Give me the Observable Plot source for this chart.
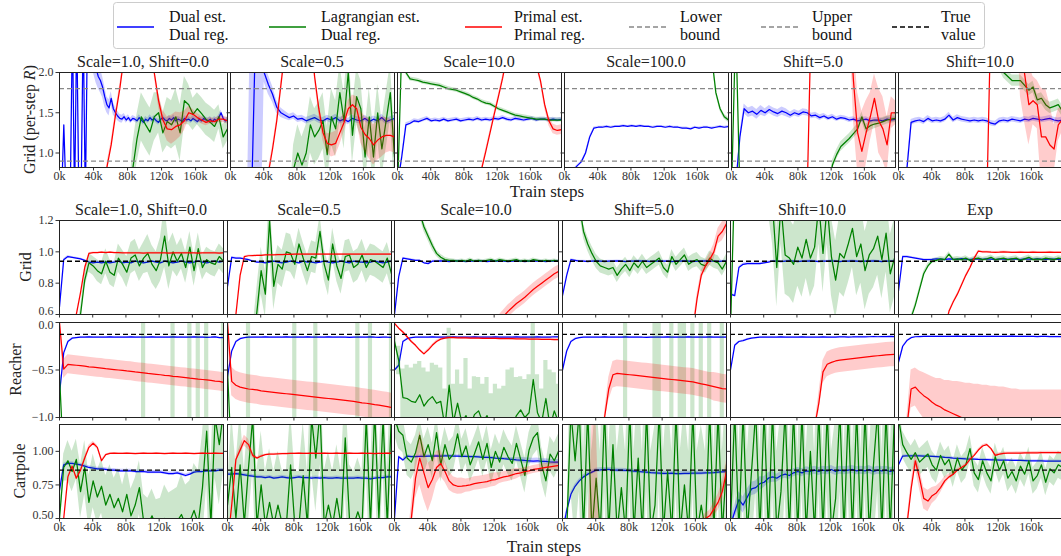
<!DOCTYPE html>
<html><head><meta charset="utf-8">
<script src="https://cdn.jsdelivr.net/npm/d3@7"></script>
<script src="https://cdn.jsdelivr.net/npm/@observablehq/plot@0.6"></script>
<style>
html,body{margin:0;padding:0;background:#fff;}
body{width:1061px;height:556px;position:relative;overflow:hidden;font-family:"Liberation Serif","DejaVu Serif",serif;}
#root{position:absolute;left:0;top:0;width:1061px;height:556px;}
#overlay{position:absolute;left:0;top:0;pointer-events:none;}
</style></head>
<body>
<div id="root"></div>
<svg id="overlay" width="1061" height="556"></svg>
<script>
// ---------------- DATA ----------------
const XMAX = 197500;
const XTICKS = [0, 40000, 80000, 120000, 160000];
const colTitlesTop = ["Scale=1.0, Shift=0.0", "Scale=0.5", "Scale=10.0", "Scale=100.0", "Shift=5.0", "Shift=10.0"];
const colTitlesBottom = ["Scale=1.0, Shift=0.0", "Scale=0.5", "Scale=10.0", "Shift=5.0", "Shift=10.0", "Exp"];
const legendLabels = [["Dual est.", "Dual reg."], ["Lagrangian est.", "Dual reg."], ["Primal est.", "Primal reg."], ["Lower", "bound"], ["Upper", "bound"], ["True", "value"]];
const topBounds = [0.9, 1.8];
const gridTrue = 0.94;
const reacherTrue = -0.125;
const cartpoleTrue = 0.86;
const topYTicks = [1.0, 1.5, 2.0];
const gridYTicks = [0.6, 0.8, 1.0, 1.2];
const reacherYTicks = [-1.0, -0.5, 0.0];
const cartYTicks = [0.5, 0.75, 1.0];

// ---- Top row: Grid (per-step R) ----
const top1_dual = [0.5,0.5,1.35,0.5,0.5,0.5,2.6,0.4,2.6,0.4,0.4,2.6,0.4,2.6,
2.4,2.3,2.15,2.05,1.95,1.9,1.82,1.7,1.6,1.56,1.68,1.55,1.5,1.46,1.43,1.42,1.45,1.41,1.44,1.40,
1.43,1.42,1.40,1.44,1.41,1.38,1.42,1.40,1.44,1.41,1.43,1.40,1.38,1.42,1.44,1.41,1.40,1.43,1.41,1.44,
1.40,1.42,1.41,1.39,1.43,1.41,1.42,1.40,1.43,1.41,1.39,1.42,1.40,1.43,1.41,1.40,1.42,1.39,1.42,1.40,
1.44,1.50,1.43,1.40,1.41];
const top1_dual_sd = [0,0,0,0,0,0,0,0.2,0.18,0.15,0.13,0.1,0.08,0.06,0.05,0.04,0.035,0.035,0.035,0.035,0.035,0.035,0.035,0.035,0.035,0.035,0.035,0.035,0.035,0.035,0.035,0.035,0.035,0.035,0.035,0.035,0.035,0.035,0.035,0.035];
const top1_lag = [0.3,0.3,0.3,0.3,0.3,0.3,0.3,0.3,0.3,0.3,0.3,0.3,0.3,0.3,0.3,0.3,0.3,0.8,1.18,1.45,1.35,1.26,1.45,1.5,1.25,1.39,1.35,1.45,1.25,1.65,1.6,1.48,1.55,1.49,1.42,1.38,1.33,1.45,1.2,1.3];
const top1_lag_sd = [0,0,0,0,0,0,0,0,0,0,0,0,0,0,0,0,0,0.3,0.3,0.3,0.3,0.3,0.3,0.25,0.25,0.3,0.3,0.35,0.35,0.3,0.25,0.2,0.2,0.2,0.2,0.2,0.2,0.15,0.15,0.15];
const top1_prim = [0.3,0.3,0.3,0.3,0.3,0.3,0.3,0.3,0.3,0.3,0.3,0.82,1.1,1.47,1.8,2.2,2.6,2.6,2.6,2.6,2.6,2.6,2.0,1.65,1.41,1.3,1.29,1.33,1.35,1.4,1.5,1.48,1.44,1.41,1.38,1.40,1.39,1.42,1.42,1.40];
const top1_prim_sd = [0,0,0,0,0,0,0,0,0,0,0,0.05,0.05,0.05,0.05,0.05,0.05,0.05,0.05,0.05,0.05,0.05,0.05,0.08,0.12,0.15,0.18,0.18,0.15,0.12,0.08,0.06,0.05,0.05,0.04,0.04,0.04,0.04,0.04,0.04];

const top2_dual = [0.4,0.4,0.4,0.4,0.4,0.4,2.6,2.3,2.0,1.85,1.73,1.57,1.5,1.47,1.44,1.46,1.42,1.43,1.40,1.42,1.44,1.41,1.40,1.43,1.41,1.44,1.40,1.42,1.39,1.43,1.41,1.40,1.43,1.39,1.42,1.40,1.44,1.39,1.41,1.43];
const top2_dual_sd = [0,0,0,0,0,3,3,3,0.12,0.12,0.1,0.08,0.06,0.05,0.04,0.04,0.04,0.04,0.04,0.04,0.04,0.04,0.04,0.04,0.04,0.04,0.04,0.04,0.04,0.04,0.04,0.04,0.04,0.04,0.04,0.04,0.04,0.04,0.04,0.04];
const top2_lag = [0.3,0.3,0.3,0.3,0.3,0.3,0.3,0.3,0.3,0.3,0.3,0.3,0.3,0.3,0.3,0.8,1.0,0.85,1.0,1.35,1.2,1.28,1.4,0.98,1.45,1.3,1.75,1.4,2.0,1.22,1.7,1.55,0.95,1.45,0.95,1.5,1.05,1.4,1.75,0.95];
const top2_lag_sd = [0,0,0,0,0,0,0,0,0,0,0,0,0,0,0,0.3,0.35,0.35,0.35,0.35,0.35,0.35,0.35,0.35,0.35,0.35,0.35,0.35,0.35,0.35,0.35,0.35,0.35,0.35,0.35,0.35,0.35,0.35,0.35,0.35];
const top2_prim = [0.3,0.3,0.3,0.3,0.3,0.3,0.3,0.3,0.3,0.75,1.05,1.4,1.85,2.3,2.6,2.6,2.6,2.6,2.6,2.6,1.95,1.55,1.25,1.12,1.1,1.12,1.25,1.38,1.55,1.6,1.55,1.32,1.23,1.18,1.1,1.16,1.2,1.22,1.22,1.2];
const top2_prim_sd = [0,0,0,0,0,0,0,0,0,0.04,0.04,0.04,0.04,0.04,0.04,0.04,0.04,0.04,0.04,0.04,0.06,0.08,0.1,0.12,0.15,0.15,0.15,0.12,0.1,0.12,0.15,0.2,0.22,0.25,0.25,0.25,0.25,0.22,0.2,0.2];

const top3_dual = [0.6,0.95,1.35,1.37,1.40,1.39,1.41,1.43,1.40,1.41,1.40,1.42,1.40,1.41,1.42,1.40,1.41,1.42,1.41,1.43,1.41,1.42,1.41,1.43,1.42,1.44,1.42,1.41,1.43,1.42,1.41,1.42,1.43,1.41,1.42,1.42,1.41,1.42,1.41,1.42];
const top3_lag = [0.5,2.3,2.0,1.92,1.91,1.90,1.88,1.87,1.86,1.85,1.84,1.82,1.80,1.79,1.78,1.76,1.74,1.72,1.69,1.67,1.64,1.62,1.61,1.58,1.55,1.53,1.51,1.49,1.47,1.46,1.45,1.44,1.43,1.42,1.42,1.42,1.41,1.41,1.41,1.41];
const top3_prim = [0.3,0.3,0.3,0.3,0.3,0.3,0.3,0.3,0.3,0.3,0.3,0.3,0.3,0.3,0.3,0.3,0.3,0.3,0.3,0.3,0.8,1.02,1.25,1.48,1.70,1.93,2.2,2.5,2.5,2.5,2.5,2.5,2.4,2.1,1.9,1.6,1.4,1.3,1.28,1.29];
const top3_prim_sd = [0,0,0,0,0,0,0,0,0,0,0,0,0,0,0,0,0,0,0,0,0.03,0.03,0.03,0.03,0.03,0.03,0.03,0.03,0.03,0.03,0.03,0.03,0.03,0.03,0.04,0.05,0.06,0.06,0.06,0.06];

const top4_dual = [0.6,0.7,0.78,0.84,0.89,1.0,1.2,1.31,1.32,1.32,1.33,1.32,1.33,1.33,1.34,1.33,1.34,1.33,1.34,1.33,1.33,1.32,1.33,1.33,1.32,1.33,1.32,1.32,1.31,1.31,1.30,1.32,1.31,1.32,1.32,1.31,1.32,1.33,1.32,1.33];
const top4_lag = [3,3,3,3,3,3,3,3,3,3,3,3,3,3,3,3,3,3,3,3,3,3,3,3,3,3,3,3,3,3,3,3,3,3,3,2.2,1.75,1.55,1.45,1.41];
const top4_prim = [];

const top5_dual = [0.5,0.6,1.2,1.55,1.5,1.52,1.48,1.53,1.5,1.54,1.51,1.49,1.52,1.5,1.47,1.5,1.48,1.51,1.5,1.46,1.47,1.44,1.46,1.43,1.45,1.42,1.44,1.43,1.41,1.42,1.4,1.41,1.42,1.40,1.41,1.41,1.40,1.42,1.41,1.42];
const top5_dual_sd = [0,0,0.05,0.06,0.06,0.06,0.06,0.06,0.05,0.05,0.05,0.05,0.05,0.05,0.04,0.04,0.04,0.04,0.04,0.035,0.035,0.035,0.03,0.03,0.03,0.03,0.03,0.03,0.03,0.03,0.03,0.03,0.03,0.03,0.03,0.03,0.03,0.03,0.03,0.03];
const top5_lag = [0.5,2.6,0.5,0.5,0.5,0.5,0.5,0.5,0.5,0.5,0.5,0.5,0.5,0.5,0.5,0.5,0.5,0.5,0.5,0.5,0.5,0.5,0.5,0.5,0.85,0.98,1.08,1.13,1.18,1.24,1.3,1.45,1.3,1.34,1.36,1.37,1.39,1.41,1.42,1.43];
const top5_lag_sd = [0,0,0,0,0,0,0,0,0,0,0,0,0,0,0,0,0,0,0,0,0,0,0,0,0.06,0.06,0.06,0.06,0.06,0.06,0.06,0.06,0.06,0.06,0.06,0.05,0.05,0.05,0.05,0.05];
const top5_prim = [0.3,0.3,0.3,0.3,0.3,0.3,0.3,0.3,0.3,0.3,0.3,0.3,0.3,0.3,0.3,0.3,0.3,0.3,0.5,2.8,2.8,2.8,2.8,2.8,2.8,2.8,2.8,2.8,2.8,1.9,1.25,1.02,1.25,1.45,1.68,1.4,1.3,1.1,1.5,1.5];
const top5_prim_sd = [0,0,0,0,0,0,0,0,0,0,0,0,0,0,0,0,0,0,0,0.02,0.02,0.02,0.02,0.02,0.02,0.02,0.02,0.02,0.02,0.5,0.5,0.5,0.4,0.3,0.3,0.4,0.4,0.35,0.2,0.15];

const top6_dual = [0.6,0.7,0.8,1.38,1.40,1.41,1.39,1.43,1.40,1.41,1.40,1.42,1.47,1.41,1.44,1.42,1.41,1.40,1.41,1.40,1.41,1.40,1.37,1.36,1.40,1.41,1.40,1.42,1.41,1.40,1.42,1.41,1.43,1.42,1.41,1.42,1.43,1.41,1.40,1.41];
const top6_lag = [3,3,3,3,3,3,3,3,3,3,3,3,3,3,3,3,3,3,3,3,3,3,3,3,2.1,2.0,1.95,1.9,1.9,1.9,1.84,1.78,1.82,1.66,1.68,1.6,1.56,1.58,1.6,1.52];
const top6_prim = [0.3,0.3,0.3,0.3,0.3,0.3,0.3,0.3,0.3,0.3,0.3,0.3,0.3,0.3,0.3,0.3,0.3,0.3,0.3,0.3,0.3,0.4,2.8,2.8,2.8,2.8,2.8,2.8,2.8,2.3,1.98,1.6,1.65,1.6,1.2,1.2,1.1,1.05,1.35,1.42];
const top6_prim_sd = [0,0,0,0,0,0,0,0,0,0,0,0,0,0,0,0,0,0,0,0,0,0,0.02,0.02,0.02,0.02,0.02,0.02,0.02,0.6,0.6,0.5,0.3,0.3,0.6,0.6,0.5,0.3,0.2,0.15];

// ---- Grid row ----
const g1_dual = [0.65,0.95,0.97,0.965,0.96,0.955,0.945,0.935,0.93,0.935,0.93,0.935,0.93,0.935,0.94,0.93,0.935,0.93,0.94,0.935,0.93,0.935,0.94,0.935,0.93,0.94,0.935,0.93,0.935,0.94,0.935,0.93,0.935,0.94,0.935,0.93,0.935,0.94,0.935,0.94];
const g1_lag = [0.3,0.3,0.3,0.3,0.45,0.6,0.82,0.93,0.91,0.88,0.86,0.94,0.87,0.85,0.96,0.92,0.87,0.96,0.98,0.91,0.96,0.99,0.92,0.88,0.95,1.1,0.91,1.0,0.94,0.99,0.9,1.03,0.88,1.02,0.9,0.95,0.93,0.92,0.97,0.94];
const g1_lag_sd = [0,0,0,0,0.03,0.04,0.05,0.06,0.06,0.07,0.07,0.08,0.08,0.08,0.09,0.09,0.1,0.1,0.1,0.1,0.1,0.12,0.12,0.12,0.14,0.2,0.15,0.12,0.1,0.1,0.1,0.1,0.1,0.1,0.08,0.08,0.08,0.08,0.08,0.08];
const g1_prim = [0.4,0.4,0.4,0.4,0.6,0.74,0.9,0.99,0.995,0.995,0.998,0.995,0.998,0.995,0.995,0.993,0.993,0.994,0.993,0.993,0.992,0.993,0.993,0.994,0.993,0.993,0.992,0.993,0.993,0.993,0.994,0.993,0.993,0.992,0.993,0.993,0.993,0.993,0.992,0.993];

const g2_dual = [0.78,0.965,0.96,0.96,0.955,0.95,0.94,0.935,0.935,0.93,0.935,0.94,0.935,0.93,0.935,0.94,0.935,0.93,0.94,0.935,0.935,0.93,0.935,0.94,0.935,0.93,0.935,0.94,0.935,0.93,0.94,0.935,0.935,0.93,0.935,0.94,0.935,0.93,0.935,0.94];
const g2_lag = [0.3,0.3,0.3,0.3,0.3,0.3,0.4,0.62,0.88,0.73,1.2,0.78,0.92,0.89,1.0,0.99,0.92,1.05,0.96,0.88,0.97,0.96,1.13,0.92,0.82,1.05,0.91,0.83,0.97,0.98,0.9,0.92,0.98,0.9,0.95,0.94,0.92,0.9,0.96,0.86];
const g2_lag_sd = [0,0,0,0,0,0,0.1,0.15,0.15,0.15,0.2,0.15,0.12,0.12,0.12,0.12,0.1,0.1,0.1,0.1,0.1,0.1,0.1,0.1,0.1,0.1,0.1,0.1,0.1,0.1,0.1,0.1,0.1,0.1,0.1,0.1,0.1,0.1,0.1,0.1];
const g2_prim = [0.4,0.5,0.6,0.85,0.97,0.975,0.976,0.977,0.978,0.98,0.98,0.981,0.982,0.982,0.983,0.984,0.985,0.985,0.985,0.985,0.986,0.985,0.985,0.985,0.986,0.985,0.985,0.985,0.985,0.986,0.985,0.985,0.985,0.985,0.986,0.985,0.985,0.985,0.985,0.985];

const g3_dual = [0.6,0.84,0.96,0.955,0.95,0.945,0.945,0.93,0.925,0.94,0.94,0.942,0.94,0.938,0.94,0.942,0.94,0.938,0.94,0.94,0.942,0.94,0.938,0.94,0.942,0.94,0.94,0.938,0.94,0.942,0.94,0.938,0.94,0.94,0.942,0.94,0.938,0.94,0.94,0.942];
const g3_lag = [1.5,1.5,1.5,1.5,1.5,1.5,1.25,1.16,1.1,1.04,0.99,0.965,0.95,0.945,0.945,0.94,0.945,0.94,0.95,0.94,0.945,0.94,0.945,0.95,0.94,0.95,0.945,0.94,0.945,0.95,0.94,0.945,0.94,0.95,0.945,0.94,0.945,0.94,0.945,0.94];
const g3_lag_sd = [0.03,0.03,0.03,0.03,0.03,0.03,0.03,0.03,0.03,0.03,0.02,0.02,0.015,0.012,0.01,0.01,0.01,0.01,0.01,0.01,0.01,0.01,0.01,0.01,0.01,0.01,0.01,0.01,0.01,0.01,0.01,0.01,0.01,0.01,0.01,0.01,0.01,0.01,0.01,0.01];
const g3_prim = [0.3,0.3,0.3,0.3,0.3,0.3,0.3,0.3,0.3,0.3,0.3,0.3,0.3,0.3,0.3,0.3,0.3,0.3,0.3,0.3,0.3,0.3,0.3,0.3,0.3,0.56,0.59,0.62,0.645,0.67,0.69,0.71,0.735,0.76,0.78,0.8,0.82,0.84,0.86,0.875];
const g3_prim_sd = [0,0,0,0,0,0,0,0,0,0,0,0,0,0,0,0,0,0,0,0,0,0,0,0,0,0.04,0.04,0.04,0.04,0.04,0.04,0.04,0.04,0.04,0.04,0.04,0.04,0.04,0.04,0.04];

const g4_dual = [0.72,0.85,0.95,0.945,0.94,0.94,0.938,0.94,0.942,0.94,0.938,0.94,0.94,0.942,0.94,0.938,0.94,0.94,0.942,0.94,0.94,0.938,0.94,0.942,0.94,0.94,0.938,0.94,0.94,0.942,0.94,0.938,0.94,0.94,0.942,0.94,0.94,0.938,0.94,0.94];
const g4_lag = [1.5,1.5,1.5,1.5,1.3,1.13,1.05,0.99,0.94,0.91,0.9,0.89,0.9,0.85,0.89,0.92,0.88,0.93,0.9,0.94,0.9,0.92,0.94,0.96,0.9,0.87,0.97,0.92,0.95,0.98,0.92,0.94,0.95,0.92,0.91,0.96,0.94,0.93,0.89,0.94];
const g4_prim = [0.3,0.3,0.3,0.3,0.3,0.3,0.3,0.3,0.3,0.3,0.3,0.3,0.3,0.3,0.3,0.3,0.3,0.3,0.3,0.3,0.3,0.3,0.3,0.3,0.3,0.3,0.3,0.3,0.3,0.3,0.3,0.5,0.7,0.85,0.91,0.95,1.0,1.1,1.13,1.18];
const g4_prim_sd = [0,0,0,0,0,0,0,0,0,0,0,0,0,0,0,0,0,0,0,0,0,0,0,0,0,0,0,0,0,0,0,0.03,0.03,0.03,0.03,0.04,0.05,0.05,0.06,0.06];

const g5_dual = [0.73,0.72,0.9,0.92,0.925,0.925,0.925,0.925,0.93,0.935,0.94,0.94,0.938,0.94,0.942,0.94,0.938,0.94,0.94,0.942,0.94,0.938,0.94,0.94,0.942,0.94,0.938,0.94,0.94,0.942,0.94,0.938,0.94,0.94,0.942,0.94,0.938,0.94,0.94,0.942];
const g5_lag = [0.5,1.5,1.5,1.5,1.5,1.5,1.5,1.5,1.5,1.5,1.3,0.9,1.3,0.98,0.96,0.92,1.03,0.96,1.08,0.96,1.03,1.3,0.99,1.3,0.97,0.82,0.99,0.96,1.05,1.15,0.97,1.05,0.88,0.98,1.02,1.1,0.95,1.12,0.86,0.96];
const g5_lag_sd = [0,0,0,0,0,0,0,0,0,0.25,0.25,0.25,0.25,0.25,0.25,0.25,0.25,0.25,0.25,0.25,0.25,0.25,0.25,0.25,0.25,0.25,0.25,0.25,0.25,0.25,0.25,0.25,0.25,0.25,0.25,0.25,0.25,0.25,0.25,0.25];
const g5_prim = [];

const g6_dual = [0.75,0.97,0.97,0.965,0.96,0.955,0.95,0.95,0.952,0.955,0.953,0.951,0.955,0.953,0.952,0.956,0.953,0.951,0.955,0.954,0.952,0.955,0.953,0.951,0.954,0.953,0.952,0.955,0.953,0.951,0.955,0.954,0.952,0.955,0.953,0.952,0.954,0.953,0.952,0.955];
const g6_lag = [0.4,0.4,0.4,0.58,0.66,0.76,0.86,0.91,0.94,0.945,0.955,0.95,0.985,0.95,0.955,0.95,0.96,0.945,0.955,0.96,0.95,0.955,0.965,0.95,0.955,0.96,0.95,0.955,0.96,0.945,0.955,0.965,0.95,0.955,0.95,0.96,0.955,0.95,0.96,0.955];
const g6_prim = [0.3,0.3,0.3,0.3,0.3,0.3,0.3,0.3,0.3,0.3,0.3,0.5,0.62,0.68,0.73,0.79,0.85,0.9,0.96,1.005,1.0,1.0,0.998,0.997,0.998,1.0,0.998,0.996,0.997,0.998,0.997,0.996,0.998,0.997,0.996,0.997,0.998,0.996,0.997,0.996];

// ---- Reacher row ----
const r1_dual = [-0.75,-0.32,-0.2,-0.165,-0.16,-0.155,-0.155,-0.152,-0.155,-0.153,-0.155,-0.154,-0.152,-0.155,-0.153,-0.155,-0.154,-0.152,-0.155,-0.153,-0.155,-0.154,-0.152,-0.155,-0.153,-0.155,-0.154,-0.152,-0.155,-0.153,-0.155,-0.154,-0.152,-0.155,-0.153,-0.157,-0.155,-0.152,-0.16,-0.158];
const r1_lag = [-0.55,-1.5,-1.5,-1.5,-1.5,-1.5,-1.5,-1.5,-1.5,-1.5,-1.5,-1.5,-1.5,-1.5,-1.5,-1.5,-1.5,-1.5,-1.5,-1.5,-1.5,-1.5,-1.5,-1.5,-1.5,-1.5,-1.5,-1.5,-1.5,-1.5,-1.5,-1.5,-1.5,-1.5,-1.5,-1.5,-1.5,-1.5,-1.5,-1.5];
const r1_lag_sd = [0,0,0,0,0,0,0,0,0,0,0,0,0,0,0,0,0,0,0,0,3,0,0,0,0,0,0,3,0,0,0,3,0,3,0,3,0,0,0,3];
const r1_prim = [0.0,-0.49,-0.44,-0.445,-0.45,-0.455,-0.46,-0.466,-0.47,-0.475,-0.48,-0.486,-0.49,-0.495,-0.5,-0.505,-0.51,-0.514,-0.52,-0.525,-0.53,-0.536,-0.54,-0.545,-0.55,-0.556,-0.56,-0.566,-0.57,-0.575,-0.58,-0.586,-0.59,-0.596,-0.6,-0.605,-0.61,-0.616,-0.62,-0.63];

const r2_dual = [-0.57,-0.3,-0.2,-0.17,-0.16,-0.155,-0.155,-0.153,-0.155,-0.152,-0.155,-0.154,-0.153,-0.155,-0.152,-0.155,-0.154,-0.153,-0.155,-0.152,-0.155,-0.154,-0.153,-0.155,-0.152,-0.155,-0.154,-0.153,-0.155,-0.157,-0.155,-0.154,-0.153,-0.155,-0.152,-0.155,-0.157,-0.153,-0.155,-0.156];
const r2_lag = [-0.5,-1.5,-1.5,-1.5,-1.5,-1.5,-1.5,-1.5,-1.5,-1.5,-1.5,-1.5,-1.5,-1.5,-1.5,-1.5,-1.5,-1.5,-1.5,-1.5,-1.5,-1.5,-1.5,-1.5,-1.5,-1.5,-1.5,-1.5,-1.5,-1.5,-1.5,-1.5,-1.5,-1.5,-1.5,-1.5,-1.5,-1.5,-1.5,-1.5];
const r2_lag_sd = [0,0,0,0,0,3,0,0,0,0,0,0,0,0,0,0,3,0,0,0,0,3,0,0,0,0,0,0,0,0,0,3,0,0,3,0,0,0,0,3];
const r2_prim = [0.0,-0.62,-0.66,-0.68,-0.69,-0.7,-0.705,-0.71,-0.72,-0.725,-0.73,-0.735,-0.74,-0.745,-0.75,-0.755,-0.76,-0.765,-0.77,-0.775,-0.78,-0.785,-0.79,-0.795,-0.8,-0.805,-0.81,-0.815,-0.82,-0.825,-0.83,-0.838,-0.845,-0.85,-0.857,-0.864,-0.87,-0.878,-0.885,-0.895];

const r3_dual = [-0.5,-0.45,-0.2,-0.17,-0.16,-0.155,-0.155,-0.153,-0.155,-0.152,-0.155,-0.154,-0.153,-0.155,-0.152,-0.155,-0.154,-0.153,-0.155,-0.152,-0.155,-0.154,-0.153,-0.155,-0.152,-0.155,-0.154,-0.153,-0.155,-0.152,-0.155,-0.154,-0.153,-0.155,-0.152,-0.155,-0.154,-0.153,-0.15,-0.152];
const r3_lag = [-0.2,-0.4,-0.79,-0.8,-0.83,-0.84,-0.76,-0.88,-0.82,-0.78,-0.85,-0.83,-1.1,-0.66,-1.05,-0.85,-1.05,-0.98,-1.1,-0.97,-0.93,-1.05,-0.98,-1.1,-1.05,-1.1,-1.02,-1.1,-1.08,-0.98,-0.92,-1.0,-0.95,-0.6,-0.95,-1.05,-0.8,-1.1,-0.93,-1.05];
const r3_lag_sd = [0.05,0.15,0.3,0.35,0.35,0.4,0.35,0.4,0.3,0.35,0.4,0.35,0.4,0.6,0.4,0.35,0.4,0.6,0.4,0.4,0.35,0.4,0.4,0.35,0.4,0.4,0.35,0.6,0.6,0.4,0.35,0.4,0.4,0.6,0.4,0.35,0.4,0.6,0.4,0.4];
const r3_prim = [-0.01,-0.06,-0.1,-0.15,-0.2,-0.24,-0.29,-0.33,-0.29,-0.24,-0.2,-0.175,-0.165,-0.16,-0.16,-0.162,-0.163,-0.163,-0.164,-0.165,-0.165,-0.166,-0.167,-0.167,-0.168,-0.169,-0.17,-0.17,-0.171,-0.172,-0.173,-0.173,-0.174,-0.175,-0.176,-0.177,-0.178,-0.178,-0.179,-0.18];

const r4_dual = [-0.5,-0.3,-0.2,-0.17,-0.16,-0.155,-0.154,-0.155,-0.153,-0.155,-0.152,-0.155,-0.154,-0.153,-0.155,-0.152,-0.155,-0.154,-0.153,-0.155,-0.156,-0.155,-0.154,-0.153,-0.155,-0.152,-0.155,-0.154,-0.153,-0.155,-0.152,-0.155,-0.154,-0.153,-0.155,-0.152,-0.155,-0.154,-0.153,-0.155];
const r4_lag = [-1.5,-1.5,-1.5,-1.5,-1.5,-1.5,-1.5,-1.5,-1.5,-1.5,-1.5,-1.5,-1.5,-1.5,-1.5,-1.5,-1.5,-1.5,-1.5,-1.5,-1.5,-1.5,-1.5,-1.5,-1.5,-1.5,-1.5,-1.5,-1.5,-1.5,-1.5,-1.5,-1.5,-1.5,-1.5,-1.5,-1.5,-1.5,-1.5,-1.5];
const r4_lag_sd = [0,0,0,0,0,0,0,0,0,0,0,0,0,0,0,3,0,0,0,0,0,0,3,3,0,0,3,0,3,3,0,3,0,3,0,3,0,0,3,0];
const r4_prim = [-1.5,-1.5,-1.5,-1.5,-1.5,-1.5,-1.5,-1.5,-1.5,-1.5,-1.0,-0.7,-0.55,-0.535,-0.54,-0.545,-0.55,-0.555,-0.56,-0.565,-0.57,-0.575,-0.58,-0.585,-0.59,-0.595,-0.6,-0.605,-0.61,-0.615,-0.62,-0.625,-0.635,-0.645,-0.655,-0.665,-0.675,-0.685,-0.695,-0.7];
const r4_prim_sd = [0,0,0,0,0,0,0,0,0,0,0.05,0.12,0.14,0.14,0.14,0.14,0.14,0.14,0.14,0.14,0.14,0.14,0.14,0.14,0.14,0.14,0.14,0.14,0.14,0.14,0.14,0.14,0.14,0.14,0.14,0.14,0.15,0.15,0.15,0.15];

const r5_dual = [-0.5,-0.24,-0.2,-0.19,-0.175,-0.165,-0.16,-0.155,-0.154,-0.155,-0.153,-0.155,-0.152,-0.154,-0.155,-0.153,-0.155,-0.152,-0.154,-0.155,-0.153,-0.155,-0.152,-0.154,-0.155,-0.153,-0.152,-0.151,-0.153,-0.152,-0.15,-0.151,-0.152,-0.15,-0.149,-0.15,-0.148,-0.149,-0.147,-0.148];
const r5_lag = [];
const r5_prim = [-1.5,-1.5,-1.5,-1.5,-1.5,-1.5,-1.5,-1.5,-1.5,-1.5,-1.5,-1.5,-1.5,-1.5,-1.5,-1.5,-1.5,-1.5,-1.5,-1.5,-1.1,-0.85,-0.52,-0.44,-0.42,-0.405,-0.395,-0.39,-0.385,-0.38,-0.375,-0.37,-0.365,-0.36,-0.355,-0.35,-0.345,-0.34,-0.337,-0.335];
const r5_prim_sd = [0,0,0,0,0,0,0,0,0,0,0,0,0,0,0,0,0,0,0,0,0,0.1,0.12,0.13,0.13,0.13,0.13,0.13,0.13,0.13,0.13,0.13,0.13,0.13,0.13,0.13,0.13,0.13,0.13,0.13];

const r6_dual = [-0.42,-0.25,-0.19,-0.16,-0.15,-0.148,-0.147,-0.146,-0.147,-0.145,-0.146,-0.147,-0.145,-0.146,-0.144,-0.146,-0.147,-0.145,-0.146,-0.145,-0.147,-0.146,-0.145,-0.146,-0.147,-0.145,-0.146,-0.144,-0.146,-0.147,-0.145,-0.146,-0.147,-0.148,-0.146,-0.147,-0.148,-0.149,-0.148,-0.15];
const r6_lag = [];
const r6_prim = [-1.5,-1.5,-1.1,-0.7,-0.68,-0.73,-0.77,-0.8,-0.84,-0.87,-0.89,-0.92,-0.94,-0.96,-0.98,-1.0,-1.02,-1.04,-1.06,-1.08,-1.1,-1.12,-1.14,-1.16,-1.18,-1.2,-1.22,-1.24,-1.26,-1.28,-1.3,-1.31,-1.32,-1.33,-1.34,-1.35,-1.36,-1.37,-1.38,-1.39];
const r6_prim_sd = [0,0,0.1,0.2,0.2,0.22,0.24,0.25,0.27,0.28,0.3,0.31,0.33,0.34,0.36,0.37,0.38,0.4,0.41,0.43,0.44,0.46,0.47,0.49,0.5,0.52,0.53,0.54,0.56,0.57,0.59,0.6,0.61,0.62,0.63,0.64,0.65,0.66,0.67,0.68];

// ---- Cartpole row ----
const c1_dual = [0.71,0.9,0.91,0.91,0.905,0.9,0.89,0.88,0.875,0.87,0.87,0.865,0.86,0.86,0.855,0.855,0.855,0.855,0.85,0.85,0.85,0.845,0.845,0.845,0.845,0.84,0.835,0.835,0.84,0.83,0.82,0.83,0.845,0.85,0.85,0.855,0.855,0.855,0.86,0.86];
const c1_lag = [0.5,0.88,0.93,0.85,0.94,0.7,0.88,0.62,0.78,0.66,0.74,0.6,0.68,0.58,0.65,0.55,0.68,0.52,0.6,0.73,0.48,0.45,0.52,0.44,0.45,0.5,0.44,0.46,0.48,0.53,0.45,0.48,0.56,0.46,0.73,1.15,0.45,1.25,1.05,1.3];
const c1_lag_sd = [0.05,0.1,0.15,0.15,0.15,0.2,0.2,0.2,0.2,0.2,0.2,0.22,0.22,0.22,0.22,0.2,0.2,0.2,0.2,0.2,0.2,0.2,0.2,0.2,0.2,0.25,0.25,0.25,0.25,0.3,0.3,0.3,0.35,0.4,0.4,0.4,0.45,0.45,0.45,0.45];
const c1_prim = [0.3,0.5,0.81,0.89,0.8,0.86,0.95,1.03,1.06,1.03,0.93,0.975,0.985,0.986,0.985,0.985,0.986,0.985,0.984,0.985,0.986,0.985,0.985,0.986,0.985,0.984,0.985,0.986,0.985,0.985,0.986,0.985,0.984,0.985,0.986,0.985,0.985,0.986,0.985,0.985];
const c1_prim_sd = [0,0,0.01,0.01,0.01,0.01,0.01,0.015,0.015,0.015,0.01,0.006,0.005,0.005,0.005,0.005,0.005,0.005,0.005,0.005,0.005,0.005,0.005,0.005,0.005,0.005,0.005,0.005,0.005,0.005,0.005,0.005,0.005,0.005,0.005,0.005,0.005,0.005,0.005,0.005];

const c2_dual = [0.83,0.83,0.835,0.83,0.825,0.82,0.815,0.81,0.81,0.805,0.81,0.8,0.805,0.81,0.805,0.8,0.805,0.81,0.805,0.805,0.8,0.805,0.8,0.805,0.8,0.8,0.805,0.8,0.8,0.8,0.8,0.805,0.8,0.8,0.795,0.8,0.805,0.805,0.81,0.81];
const c2_lag = [0.6,0.88,0.5,0.9,0.46,0.88,1.25,0.45,0.75,0.45,0.62,0.45,0.6,0.46,0.45,0.9,0.45,0.45,0.82,0.45,1.25,0.95,1.3,0.45,0.6,0.45,0.65,0.45,1.1,0.5,0.45,0.55,0.45,1.25,0.45,1.3,0.5,1.25,0.45,1.3];
const c2_lag_sd = [0.1,0.4,0.4,0.4,0.4,0.4,0.4,0.4,0.4,0.4,0.4,0.4,0.4,0.4,0.4,0.4,0.4,0.4,0.4,0.4,0.4,0.4,0.4,0.4,0.4,0.4,0.4,0.4,0.4,0.4,0.4,0.4,0.4,0.4,0.4,0.4,0.4,0.4,0.4,0.4];
const c2_prim = [0.3,0.6,0.94,1.01,1.08,1.05,0.97,0.95,0.965,0.975,0.98,0.98,0.982,0.983,0.984,0.985,0.985,0.986,0.985,0.985,0.986,0.985,0.985,0.986,0.985,0.985,0.986,0.985,0.985,0.986,0.985,0.985,0.986,0.985,0.985,0.984,0.985,0.985,0.986,0.985];
const c2_prim_sd = [0,0,0.02,0.03,0.04,0.04,0.02,0.01,0.008,0.006,0.005,0.005,0.005,0.005,0.005,0.005,0.005,0.005,0.005,0.005,0.005,0.005,0.005,0.005,0.005,0.005,0.005,0.005,0.005,0.005,0.005,0.005,0.005,0.005,0.005,0.005,0.005,0.005,0.005,0.005];

const c3_dual = [0.5,0.96,0.935,0.965,0.96,0.96,0.962,0.963,0.965,0.965,0.966,0.965,0.967,0.966,0.965,0.965,0.963,0.962,0.96,0.96,0.958,0.955,0.955,0.953,0.95,0.948,0.945,0.943,0.94,0.937,0.935,0.932,0.93,0.928,0.93,0.925,0.925,0.922,0.92,0.92];
const c3_dual_sd = [0.01,0.01,0.01,0.01,0.01,0.01,0.01,0.01,0.01,0.01,0.01,0.01,0.01,0.01,0.01,0.01,0.01,0.01,0.01,0.01,0.01,0.01,0.01,0.01,0.01,0.01,0.01,0.012,0.014,0.015,0.02,0.02,0.02,0.02,0.02,0.02,0.02,0.02,0.02,0.02];
const c3_lag = [1.25,1.15,1.12,0.95,0.92,0.99,1.12,0.96,1.05,0.93,1.14,0.9,1.05,0.94,0.98,1.13,0.96,1.04,0.9,0.98,1.07,0.94,1.06,0.88,1.0,0.92,1.03,0.96,0.91,1.06,0.94,0.82,1.01,1.1,1.14,0.9,0.78,0.98,0.93,1.0];
const c3_prim = [0.3,0.3,0.3,0.3,0.5,0.8,0.95,0.84,0.73,0.79,0.88,0.91,0.85,0.78,0.75,0.74,0.742,0.745,0.75,0.76,0.765,0.77,0.775,0.785,0.79,0.8,0.81,0.815,0.825,0.835,0.84,0.85,0.855,0.865,0.87,0.875,0.88,0.885,0.89,0.895];
const c3_prim_sd = [0,0,0,0,0.1,0.15,0.2,0.2,0.18,0.15,0.12,0.1,0.08,0.07,0.06,0.06,0.06,0.05,0.05,0.05,0.05,0.05,0.05,0.05,0.05,0.04,0.04,0.04,0.04,0.04,0.03,0.03,0.03,0.03,0.03,0.03,0.03,0.03,0.03,0.03];

const c4_dual = [0.4,0.56,0.68,0.74,0.78,0.81,0.83,0.845,0.86,0.862,0.865,0.865,0.862,0.86,0.86,0.858,0.856,0.852,0.85,0.848,0.845,0.842,0.84,0.838,0.836,0.836,0.837,0.835,0.835,0.836,0.836,0.837,0.838,0.838,0.84,0.84,0.842,0.845,0.848,0.85];
const c4_lag = [0.4,0.4,1.3,0.93,1.3,0.4,1.3,0.4,0.8,0.4,1.3,0.4,1.05,0.4,0.73,0.4,1.3,0.4,0.95,0.4,1.3,0.4,0.6,1.3,0.4,0.85,0.4,1.3,0.4,0.75,0.4,1.3,0.4,0.6,0.4,1.3,0.4,1.3,0.4,0.9];
const c4_lag_sd = [0,0,0.6,0.6,0.6,0.6,0.6,0.6,0.6,0.6,0.6,0.6,0.6,0.6,0.6,0.6,0.6,0.6,0.6,0.6,0.6,0.6,0.6,0.6,0.6,0.6,0.6,0.6,0.6,0.6,0.6,0.6,0.6,0.6,0.6,0.6,0.6,0.6,0.6,0.6];
const c4_prim = [0.3,0.3,0.3,0.3,0.3,0.3,0.3,0.3,0.3,0.3,0.3,0.3,0.3,0.3,0.3,0.3,0.3,0.3,0.3,0.3,0.3,0.3,0.3,0.3,0.3,0.3,0.3,0.3,0.3,0.3,0.3,0.3,0.3,0.45,0.5,0.52,0.57,0.62,0.7,0.85];
const c4_prim_sd = [0,0,0,0,0,0,0,0.9,0.9,0,0,0,0,0,0,0,0,0,0,0,0,0,0,0,0,0,0,0,0,0,0,0,0,0.03,0.04,0.04,0.05,0.06,0.07,0.08];

const c5_dual = [0.45,0.55,0.64,0.6,0.66,0.72,0.73,0.76,0.77,0.8,0.81,0.8,0.82,0.83,0.82,0.84,0.85,0.84,0.855,0.85,0.86,0.85,0.86,0.855,0.865,0.85,0.86,0.855,0.86,0.865,0.855,0.86,0.855,0.865,0.85,0.86,0.855,0.86,0.85,0.855];
const c5_dual_sd = [0.03,0.05,0.06,0.06,0.06,0.05,0.05,0.05,0.04,0.04,0.04,0.03,0.03,0.03,0.03,0.03,0.03,0.03,0.03,0.03,0.03,0.03,0.03,0.03,0.03,0.03,0.03,0.03,0.03,0.03,0.03,0.03,0.03,0.03,0.03,0.03,0.03,0.03,0.03,0.03];
const c5_lag = [0.45,1.3,0.4,1.3,0.4,0.85,1.3,0.4,1.3,0.4,1.3,0.4,0.7,1.3,0.4,1.3,0.4,1.3,0.4,1.0,0.4,1.3,0.4,1.3,0.4,0.65,1.3,0.4,1.3,0.4,1.3,0.4,1.3,0.4,0.9,1.3,0.4,1.3,0.4,1.3];
const c5_prim = [];

const c6_dual = [0.9,0.965,0.967,0.967,0.966,0.966,0.965,0.964,0.962,0.96,0.958,0.955,0.953,0.95,0.948,0.946,0.944,0.943,0.942,0.94,0.939,0.938,0.937,0.936,0.935,0.934,0.934,0.933,0.932,0.932,0.931,0.93,0.93,0.929,0.929,0.928,0.928,0.927,0.927,0.926];
const c6_lag = [1.25,1.05,0.99,0.94,0.99,0.92,0.95,0.98,0.9,0.86,0.97,0.9,0.94,0.83,0.95,0.86,0.9,1.02,0.84,0.79,0.93,0.84,0.78,0.96,0.86,0.93,0.8,0.85,0.78,0.89,0.83,0.93,0.78,0.82,0.9,0.77,0.87,0.84,0.9,0.88];
const c6_prim = [0.3,0.3,0.45,0.72,0.93,0.8,0.65,0.63,0.67,0.69,0.73,0.78,0.81,0.83,0.86,0.88,0.9,0.94,0.97,1.01,1.04,1.05,1.02,0.97,0.98,0.985,0.986,0.986,0.987,0.987,0.988,0.988,0.989,0.989,0.99,0.99,0.99,0.99,0.99,0.99];
const c6_prim_sd = [0,0,0.03,0.05,0.06,0.08,0.08,0.08,0.06,0.05,0.04,0.03,0.02,0.02,0.01,0.01,0.01,0.01,0.01,0.01,0.01,0.01,0.01,0.01,0.01,0.01,0.01,0.01,0.01,0.01,0.01,0.01,0.01,0.01,0.01,0.01,0.01,0.01,0.01,0.01];

// ---------------- LAYOUT / STYLE ----------------
const FONT = "'Liberation Serif','DejaVu Serif',serif";
const BLUE = "#0000ff", GREEN = "#008000", RED = "#ff0000";
const root = document.getElementById("root");

function rowsOf(ys, sd) {
  const n = ys.length, out = [];
  for (let i = 0; i < n; i++) {
    const s = typeof sd === "number" ? sd : sd[Math.min(sd.length - 1, Math.floor(i * sd.length / n))];
    out.push({x: i * XMAX / (n - 1), y: ys[i], lo: ys[i] - s, hi: ys[i] + s});
  }
  return out;
}

function drawPanel(cfg) {
  const ml = 40, mr = 2, mt = 4, mb = 22;
  const marks = [];
  for (const s of cfg.series) {
    if (!s.y.length) continue;
    const d = rowsOf(s.y, s.sd);
    marks.push(Plot.areaY(d, {x: "x", y1: "lo", y2: "hi", fill: s.color, fillOpacity: 0.2, clip: true,
      curve: s.stepBand ? "step" : "linear"}));
    marks.push(Plot.line(d, {x: "x", y: "y", stroke: s.color, strokeWidth: 1.25, clip: true}));
  }
  for (const r of cfg.refs) {
    marks.push(Plot.ruleY([r.v], {stroke: r.c, strokeDasharray: "5,3", strokeWidth: 1.3}));
  }
  marks.push(Plot.frame({stroke: "#222", strokeWidth: 1}));
  const fmtY = d3.format(cfg.yfmt);
  if (cfg.ylab) {
    marks.push(Plot.text(cfg.yticks, {y: d => d, text: d => fmtY(d), frameAnchor: "left", textAnchor: "end",
      dx: -6, fill: "#333", fontSize: 12}));
  }
  const p = Plot.plot({
    width: cfg.w + ml + mr, height: cfg.h + mt + mb,
    marginLeft: ml, marginRight: mr, marginTop: mt, marginBottom: mb,
    style: {fontFamily: FONT, fontSize: "12px", color: "#333", background: "transparent", overflow: "visible"},
    x: {domain: [0, XMAX], ticks: XTICKS, tickSize: 3.5, tickPadding: 0.5, label: null,
        tickFormat: cfg.xlab ? (d => (d / 1000) + "k") : (() => "")},
    y: {domain: cfg.ydom, ticks: cfg.yticks, tickSize: 3.5, tickPadding: 2, label: null,
        tickFormat: () => ""},
    marks
  });
  if (cfg.ylab && cfg.nudge) {
    // move edge labels slightly apart from the neighbouring rows' edge labels
    d3.select(p).selectAll("text").each(function() {
      const t = d3.select(this);
      for (const n of cfg.nudge) {
        if (t.text() === n.label) {
          const prev = t.attr("transform") || "";
          t.attr("transform", prev + ` translate(0,${n.dy})`);
        }
      }
    });
  }
  p.style.position = "absolute";
  p.style.left = (cfg.left - ml) + "px";
  p.style.top = (cfg.top - mt) + "px";
  root.appendChild(p);
}

const topLefts = [59, 230, 397, 564, 731, 898];
const topWidths = [168, 164, 164, 164, 164, 164];
const botLefts = [59, 227, 394, 562, 730, 898];
const botW = 164;

const topSeries = [
  [[top1_dual, top1_dual_sd], [top1_lag, top1_lag_sd], [top1_prim, top1_prim_sd]],
  [[top2_dual, top2_dual_sd], [top2_lag, top2_lag_sd], [top2_prim, top2_prim_sd]],
  [[top3_dual, 0.025], [top3_lag, 0.025], [top3_prim, top3_prim_sd]],
  [[top4_dual, 0.012], [top4_lag, 0.03], [top4_prim, 0]],
  [[top5_dual, top5_dual_sd], [top5_lag, top5_lag_sd], [top5_prim, top5_prim_sd]],
  [[top6_dual, 0.035], [top6_lag, 0.07], [top6_prim, top6_prim_sd]]
];
const gridSeries = [
  [[g1_dual, 0.006], [g1_lag, g1_lag_sd], [g1_prim, 0.004]],
  [[g2_dual, 0.006], [g2_lag, g2_lag_sd], [g2_prim, 0.004]],
  [[g3_dual, 0.006], [g3_lag, g3_lag_sd], [g3_prim, g3_prim_sd]],
  [[g4_dual, 0.006], [g4_lag, 0.045], [g4_prim, g4_prim_sd]],
  [[g5_dual, 0.007], [g5_lag, g5_lag_sd], [g5_prim, 0]],
  [[g6_dual, 0.006], [g6_lag, 0.015], [g6_prim, 0.005]]
];
const reacherSeries = [
  [[r1_dual, 0.006], [r1_lag, r1_lag_sd], [r1_prim, 0.1]],
  [[r2_dual, 0.006], [r2_lag, r2_lag_sd], [r2_prim, 0.15]],
  [[r3_dual, 0.006], [r3_lag, r3_lag_sd], [r3_prim, 0.012]],
  [[r4_dual, 0.006], [r4_lag, r4_lag_sd], [r4_prim, r4_prim_sd]],
  [[r5_dual, 0.006], [r5_lag, 0], [r5_prim, r5_prim_sd]],
  [[r6_dual, 0.006], [r6_lag, 0], [r6_prim, r6_prim_sd]]
];
const cartSeries = [
  [[c1_dual, 0.012], [c1_lag, c1_lag_sd], [c1_prim, c1_prim_sd]],
  [[c2_dual, 0.012], [c2_lag, c2_lag_sd], [c2_prim, c2_prim_sd]],
  [[c3_dual, c3_dual_sd], [c3_lag, 0.13], [c3_prim, c3_prim_sd]],
  [[c4_dual, 0.015], [c4_lag, c4_lag_sd], [c4_prim, c4_prim_sd]],
  [[c5_dual, c5_dual_sd], [c5_lag, 0.6], [c5_prim, 0]],
  [[c6_dual, 0.008], [c6_lag, 0.1], [c6_prim, c6_prim_sd]]
];

function toSeries(triple, stepGreen) {
  const cols = [BLUE, GREEN, RED];
  return triple.map((t, k) => ({y: t[0], sd: t[1], color: cols[k], stepBand: stepGreen && k === 1}));
}

const rows = [
  {list: topSeries, lefts: topLefts, widths: topWidths, top: 72, h: 95, ydom: [0.82, 2.0], yticks: topYTicks, yfmt: ".1f",
   refs: [{v: topBounds[0], c: "#888"}, {v: topBounds[1], c: "#888"}], xlab: true, stepGreen: false, nudge: null},
  {list: gridSeries, lefts: botLefts, widths: null, top: 220, h: 94, ydom: [0.6, 1.2], yticks: gridYTicks, yfmt: ".1f",
   refs: [{v: gridTrue, c: "#000"}], xlab: false, stepGreen: false, nudge: [{label: "0.6", dy: -3}]},
  {list: reacherSeries, lefts: botLefts, widths: null, top: 322, h: 95, ydom: [-1.0, 0.0], yticks: reacherYTicks, yfmt: ".1f",
   refs: [{v: reacherTrue, c: "#000"}], xlab: false, stepGreen: true, nudge: [{label: "0.0", dy: 3}]},
  {list: cartSeries, lefts: botLefts, widths: null, top: 424, h: 94, ydom: [0.5, 1.2], yticks: cartYTicks, yfmt: ".2f",
   refs: [{v: cartpoleTrue, c: "#000"}], xlab: true, stepGreen: false, nudge: [{label: "0.50", dy: -3}]}
];

for (const r of rows) {
  r.list.forEach((triple, c) => {
    drawPanel({left: r.lefts[c], w: r.widths ? r.widths[c] : botW, top: r.top, h: r.h,
      ydom: r.ydom, yticks: r.yticks, yfmt: r.yfmt, refs: r.refs, xlab: r.xlab, ylab: c === 0,
      nudge: r.nudge, series: toSeries(triple, r.stepGreen)});
  });
}

// ---------------- OVERLAY TEXT & LEGEND ----------------
const ov = d3.select("#overlay").style("font-family", FONT);
colTitlesTop.forEach((t, c) => ov.append("text").attr("x", topLefts[c] + topWidths[c] / 2).attr("y", 67)
  .attr("text-anchor", "middle").attr("font-size", 16).attr("fill", "#222").text(t));
colTitlesBottom.forEach((t, c) => ov.append("text").attr("x", botLefts[c] + botW / 2).attr("y", 215)
  .attr("text-anchor", "middle").attr("font-size", 16).attr("fill", "#222").text(t));
function ylab(x, y, parts) {
  const t = ov.append("text").attr("transform", `translate(${x},${y}) rotate(-90)`).attr("text-anchor", "middle")
    .attr("dominant-baseline", "central").attr("font-size", 16).attr("fill", "#222");
  parts.forEach(p => t.append("tspan").attr("font-style", p[1] ? "italic" : null).text(p[0]));
}
ylab(29, 119.5, [["Grid (per-step ", false], ["R", true], [")", false]]);
ylab(25, 267, [["Grid", false]]);
ylab(15, 369.5, [["Reacher", false]]);
ylab(19, 471, [["Cartpole", false]]);
ov.append("text").attr("x", 547).attr("y", 197).attr("text-anchor", "middle").attr("font-size", 17).attr("fill", "#222").text("Train steps");
ov.append("text").attr("x", 544).attr("y", 552).attr("text-anchor", "middle").attr("font-size", 17).attr("fill", "#222").text("Train steps");
ov.append("rect").attr("x", 113.5).attr("y", 2.5).attr("width", 871).attr("height", 46).attr("rx", 3)
  .attr("fill", "#fff").attr("fill-opacity", 0.9).attr("stroke", "#ccc");
const legSample = [
  {x: 117, tx: 169, c: BLUE, dash: null},
  {x: 269, tx: 321, c: GREEN, dash: null},
  {x: 465, tx: 514, c: RED, dash: null},
  {x: 629, tx: 680, c: "#888", dash: "5,3"},
  {x: 761, tx: 812, c: "#888", dash: "5,3"},
  {x: 892, tx: 941, c: "#000", dash: "5,3"}
];
legSample.forEach((s, k) => {
  ov.append("line").attr("x1", s.x).attr("x2", s.x + 37).attr("y1", 27).attr("y2", 27)
    .attr("stroke", s.c).attr("stroke-width", 1.5).attr("stroke-dasharray", s.dash);
  ov.append("text").attr("x", s.tx).attr("y", 21.5).attr("font-size", 16).attr("fill", "#111").text(legendLabels[k][0]);
  ov.append("text").attr("x", s.tx).attr("y", 40).attr("font-size", 16).attr("fill", "#111").text(legendLabels[k][1]);
});
</script>
</body></html>
